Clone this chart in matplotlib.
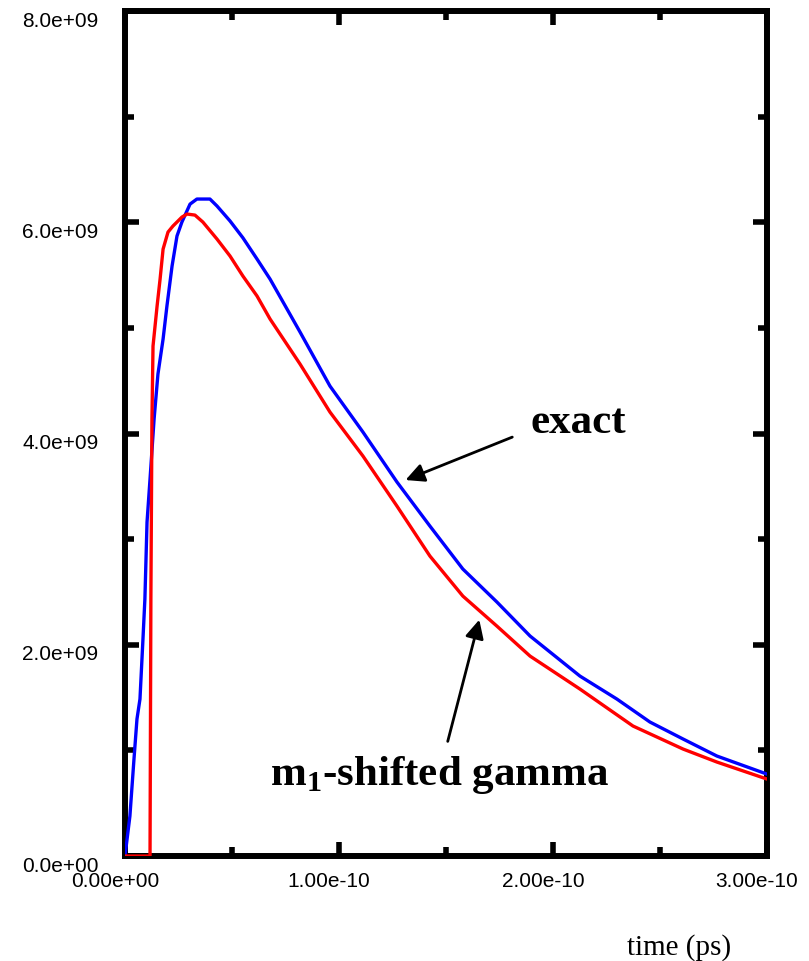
import numpy as np
import matplotlib.pyplot as plt
import matplotlib.transforms as mtransforms
from matplotlib.ticker import FormatStrFormatter

# exact curve (time in 1e-10 s, value in 1e9)
t_exact = np.array([0.0, 0.023, 0.042, 0.056, 0.070, 0.084, 0.093, 0.103, 0.117, 0.136,
                    0.154, 0.178, 0.196, 0.220, 0.243, 0.266, 0.304, 0.336, 0.397, 0.430,
                    0.491, 0.551, 0.617, 0.678, 0.818, 0.958, 1.112, 1.271, 1.425, 1.579,
                    1.738, 1.893, 2.126, 2.299, 2.453, 2.608, 2.766, 3.000]) * 1e-10
v_exact = np.array([0.0, 0.379, 0.918, 1.297, 1.486, 2.054, 2.433, 3.162, 3.569, 4.137,
                    4.563, 4.894, 5.207, 5.586, 5.870, 6.002, 6.172, 6.220, 6.220, 6.154,
                    6.012, 5.853, 5.652, 5.462, 4.961, 4.449, 4.014, 3.541, 3.124, 2.717,
                    2.405, 2.083, 1.704, 1.486, 1.269, 1.108, 0.947, 0.776]) * 1e9

# m1-shifted gamma curve
t_gamma = np.array([0.0, 0.117, 0.121, 0.126, 0.131, 0.150, 0.164, 0.178, 0.201, 0.224,
                    0.266, 0.290, 0.327, 0.364, 0.430, 0.491, 0.551, 0.617, 0.678, 0.818,
                    0.958, 1.112, 1.271, 1.425, 1.579, 1.738, 1.893, 2.126, 2.374, 2.608,
                    2.766, 3.000]) * 1e-10
v_gamma = np.array([0.0, 0.0, 2.433, 4.137, 4.828, 5.207, 5.462, 5.746, 5.907, 5.964,
                    6.049, 6.078, 6.068, 6.002, 5.841, 5.680, 5.491, 5.302, 5.084, 4.658,
                    4.203, 3.787, 3.313, 2.840, 2.461, 2.177, 1.893, 1.581, 1.231, 1.013,
                    0.890, 0.729]) * 1e9

# ticks
x_major = [0.0, 1e-10, 2e-10, 3e-10]
x_minor = [0.5e-10, 1.5e-10, 2.5e-10]
y_major = [0.0, 2e9, 4e9, 6e9, 8e9]
y_minor = [1e9, 3e9, 5e9, 7e9]

plt.rcParams['font.family'] = 'Liberation Sans'
plt.rcParams['mathtext.fontset'] = 'custom'
plt.rcParams['mathtext.rm'] = 'Liberation Serif:bold'
plt.rcParams['mathtext.bf'] = 'Liberation Serif:bold'

fig = plt.figure(figsize=(8.09, 9.62), dpi=100)
ax = fig.add_axes([0.1545, 0.1091, 0.7935, 0.8784])

ax.plot(t_exact, v_exact, color='#0000ff', lw=2.4, zorder=3)
ax.plot(t_gamma, v_gamma, color='#ff0000', lw=2.4, zorder=3)

ax.set_xlim(0, 3e-10)
ax.set_ylim(0, 8e9)
ax.set_xticks(x_major)
ax.set_xticks(x_minor, minor=True)
ax.set_yticks(y_major)
ax.set_yticks(y_minor, minor=True)
ax.xaxis.set_major_formatter(FormatStrFormatter('%.2e'))
ax.yaxis.set_major_formatter(FormatStrFormatter('%.1e'))

for s in ax.spines.values():
    s.set_linewidth(4.3)
ax.tick_params(which='both', direction='in', top=True, right=True, width=4, labelsize=15)
ax.tick_params(which='major', length=10)
ax.tick_params(which='minor', length=6.5)
ax.tick_params(axis='y', pad=19)
ax.tick_params(axis='x', pad=11)

# labels sit a bit off their ticks in the original
xoff = mtransforms.ScaledTranslation(-0.10, 0, fig.dpi_scale_trans)
yoff = mtransforms.ScaledTranslation(0, -0.07, fig.dpi_scale_trans)
for lab in ax.get_xticklabels():
    lab.set_transform(lab.get_transform() + xoff)
for lab in ax.get_yticklabels():
    lab.set_transform(lab.get_transform() + yoff)

# arrows and labels
ax.annotate('', xy=(1.299e-10, 3.55e9), xytext=(1.822e-10, 3.976e9),
            arrowprops=dict(arrowstyle='-|>', lw=2, color='k', mutation_scale=28))
ax.annotate('', xy=(1.659e-10, 2.263e9), xytext=(1.505e-10, 1.06e9),
            arrowprops=dict(arrowstyle='-|>', lw=2, color='k', mutation_scale=28))
ax.text(2.117e-10, 4.109e9, 'exact', family='Liberation Serif', weight='bold',
        fontsize=31, ha='center', va='center')
ax.text(1.472e-10, 0.776e9, r'm$_\mathrm{1}$-shifted gamma', family='Liberation Serif',
        weight='bold', fontsize=31, ha='center', va='center')

fig.text(0.840, 0.0146, 'time (ps)', family='Liberation Serif', fontsize=21,
         ha='center', va='center')

fig.savefig('out.png', dpi=100)
